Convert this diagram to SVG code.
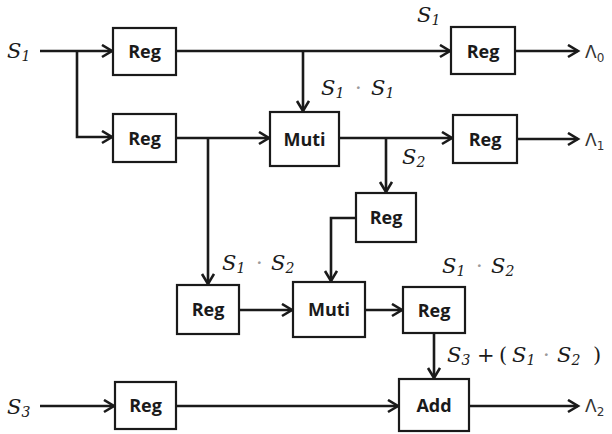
<svg xmlns="http://www.w3.org/2000/svg" width="612" height="434" viewBox="0 0 612 434">
<style>
.box{fill:#fff;stroke:#1a1a1a;stroke-width:2.2}
.bt{font-family:"Open Sans","Liberation Sans",sans-serif;font-weight:bold;font-size:18px;fill:#1a1a1a;text-anchor:middle}
.ln{fill:none;stroke:#1a1a1a;stroke-width:2.6;marker-end:url(#ah)}
.m{font-family:"DejaVu Serif","Liberation Serif",serif;font-style:italic;font-size:21px;fill:#1a1a1a}
.sb{font-size:14px}
.up{font-style:normal}
.dot{fill:#999;font-style:normal}
.lam{font-family:"DejaVu Sans","Liberation Sans",sans-serif;font-size:17px;fill:#333}
</style>
<defs>
<marker id="ah" markerUnits="userSpaceOnUse" markerWidth="14" markerHeight="16" refX="11" refY="7" orient="auto">
<path d="M1,1 L11,7 L1,13" fill="none" stroke="#1a1a1a" stroke-width="2.6"/>
</marker>
</defs>
<rect width="612" height="434" fill="#fff"/>
<g id="connectors">
<path class="ln" d="M40,51 H112"/>
<path class="ln" d="M77,51 V137 H112"/>
<path class="ln" d="M176,51 H450"/>
<path class="ln" d="M303,51 V111"/>
<path class="ln" d="M176,138 H269"/>
<path class="ln" d="M208,138 V284"/>
<path class="ln" d="M339,138 H452"/>
<path class="ln" d="M386,138 V192"/>
<path class="ln" d="M515,51 H578"/>
<path class="ln" d="M517,139 H578"/>
<path class="ln" d="M356,218 H331 V281"/>
<path class="ln" d="M239,310 H292"/>
<path class="ln" d="M365,310 H402"/>
<path class="ln" d="M434,333 V378"/>
<path class="ln" d="M40,406 H114"/>
<path class="ln" d="M176,406 H398"/>
<path class="ln" d="M469,406 H578"/>
</g>
<g id="reg_a"><rect class="box" x="113" y="28" width="63" height="47"/><text class="bt" x="144.5" y="58">Reg</text></g>
<g id="reg_b"><rect class="box" x="113" y="114" width="63" height="48"/><text class="bt" x="144.5" y="144.5">Reg</text></g>
<g id="muti_a"><rect class="box" x="270" y="112" width="69" height="54"/><text class="bt" x="304.5" y="145.5">Muti</text></g>
<g id="reg_out0"><rect class="box" x="451" y="27" width="64" height="47"/><text class="bt" x="483" y="57.5">Reg</text></g>
<g id="reg_out1"><rect class="box" x="453" y="115" width="64" height="48"/><text class="bt" x="485" y="145.5">Reg</text></g>
<g id="reg_c"><rect class="box" x="356" y="193" width="60" height="49"/><text class="bt" x="386" y="224">Reg</text></g>
<g id="reg_d"><rect class="box" x="177" y="285" width="62" height="49"/><text class="bt" x="208" y="316">Reg</text></g>
<g id="muti_b"><rect class="box" x="293" y="282" width="72" height="55"/><text class="bt" x="329" y="316">Muti</text></g>
<g id="reg_e"><rect class="box" x="403" y="287" width="62" height="46"/><text class="bt" x="434" y="316.5">Reg</text></g>
<g id="reg_f"><rect class="box" x="115" y="382" width="61" height="47"/><text class="bt" x="145.5" y="412">Reg</text></g>
<g id="add"><rect class="box" x="399" y="379" width="70" height="52"/><text class="bt" x="434" y="411.5">Add</text></g>
<g id="labels">
<text class="m" x="7" y="58">S<tspan class="sb" dy="3">1</tspan></text>
<text class="m" x="417" y="22">S<tspan class="sb" dy="3">1</tspan></text>
<text class="m" x="321" y="95">S<tspan class="sb" dy="3">1</tspan><tspan class="dot" x="355" dy="-3">·</tspan><tspan x="371">S</tspan><tspan class="sb" dy="3">1</tspan></text>
<text class="m" x="402" y="164">S<tspan class="sb" dy="3">2</tspan></text>
<text class="m" x="222" y="270">S<tspan class="sb" dy="3">1</tspan><tspan class="dot" x="256" dy="-3">·</tspan><tspan x="271">S</tspan><tspan class="sb" dy="3">2</tspan></text>
<text class="m" x="442" y="273">S<tspan class="sb" dy="3">1</tspan><tspan class="dot" x="476" dy="-3">·</tspan><tspan x="491">S</tspan><tspan class="sb" dy="3">2</tspan></text>
<text class="m" x="447" y="362">S<tspan class="sb" dy="3">3</tspan><tspan class="up" dy="-3" x="477">+</tspan><tspan class="up" x="499">(</tspan><tspan x="512">S</tspan><tspan class="sb" dy="3">1</tspan><tspan class="dot" x="543" dy="-3">·</tspan><tspan x="557">S</tspan><tspan class="sb" dy="3">2</tspan><tspan class="up" x="593" dy="-3">)</tspan></text>
<text class="m" x="7" y="414">S<tspan class="sb" dy="3">3</tspan></text>
<text class="lam" x="585" y="58">Λ<tspan font-size="12" dy="4">0</tspan></text>
<text class="lam" x="585" y="146">Λ<tspan font-size="12" dy="4">1</tspan></text>
<text class="lam" x="585" y="412">Λ<tspan font-size="12" dy="4">2</tspan></text>
</g>
</svg>
